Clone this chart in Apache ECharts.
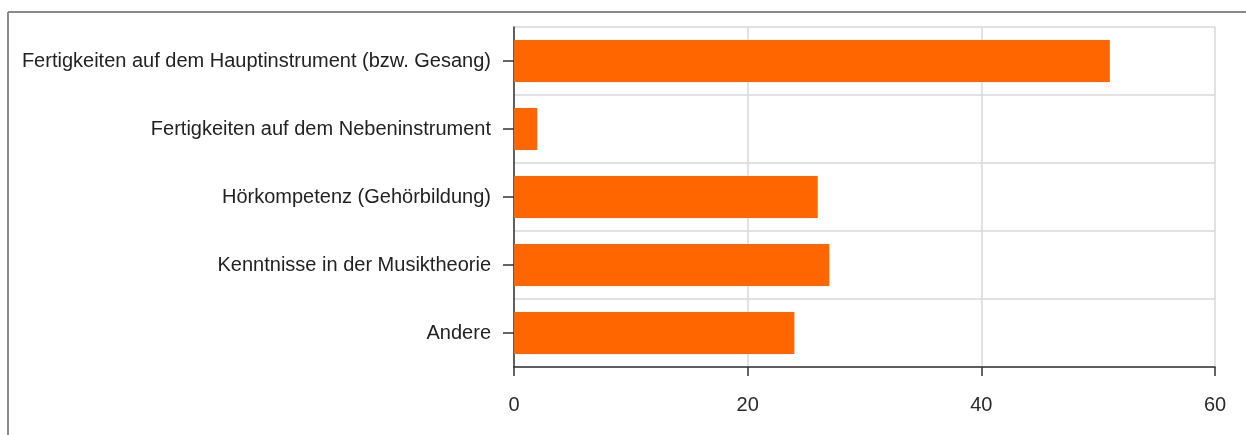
<!DOCTYPE html>
<html>
<head>
<meta charset="utf-8">
<script src="https://cdn.jsdelivr.net/npm/echarts@6/dist/echarts.min.js"></script>
<style>
html,body{margin:0;padding:0;background:#fff;}
#c{width:1246px;height:435px;}
</style>
</head>
<body>
<div id="c"></div>
<script>
const categories = [
  "Fertigkeiten auf dem Hauptinstrument (bzw. Gesang)",
  "Fertigkeiten auf dem Nebeninstrument",
  "Hörkompetenz (Gehörbildung)",
  "Kenntnisse in der Musiktheorie",
  "Andere"
];
const values = [51, 2, 26, 27, 24];
const xTicks = [0, 20, 40, 60];

const chart = echarts.init(document.getElementById('c'), null, {renderer: 'canvas'});
chart.setOption({
  animation: false,
  backgroundColor: '#ffffff',
  graphic: [
    {type: 'line', shape: {x1: 8, y1: 12, x2: 1246, y2: 12}, style: {stroke: '#8a8a8a', lineWidth: 2}},
    {type: 'line', shape: {x1: 8, y1: 12, x2: 8, y2: 435}, style: {stroke: '#8a8a8a', lineWidth: 2}}
  ],
  grid: {left: 514, right: 31, top: 27, bottom: 68, containLabel: false},
  xAxis: {
    type: 'value',
    min: xTicks[0],
    max: xTicks[xTicks.length - 1],
    interval: 20,
    axisLine: {show: true, lineStyle: {color: '#333', width: 1.5}},
    axisTick: {show: true, length: 9, lineStyle: {color: '#333', width: 1.5}},
    axisLabel: {color: '#2a2a2a', fontSize: 20, fontFamily: 'Liberation Sans, Arial, sans-serif', margin: 28},
    splitLine: {show: true, lineStyle: {color: '#d9d9d9', width: 1.5}}
  },
  yAxis: {
    type: 'category',
    data: categories,
    inverse: true,
    axisLine: {show: true, lineStyle: {color: '#333', width: 1.5}},
    axisTick: {show: true, alignWithLabel: true, length: 11, lineStyle: {color: '#333', width: 1.5}},
    axisLabel: {color: '#222', fontSize: 20, fontFamily: 'Liberation Sans, Arial, sans-serif', margin: 23},
    splitLine: {show: true, lineStyle: {color: '#d9d9d9', width: 1.5}}
  },
  series: [{
    type: 'bar',
    data: values,
    barWidth: 42,
    itemStyle: {color: '#ff6600'}
  }]
});
</script>
</body>
</html>
